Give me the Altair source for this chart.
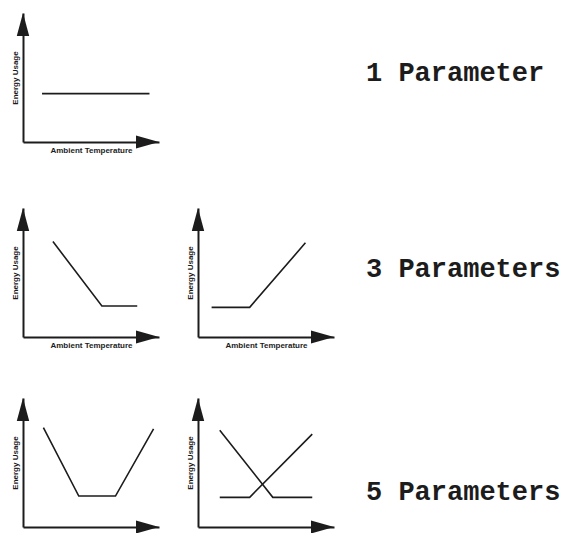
import altair as alt
import pandas as pd

# ---- text ----
TEMP_TITLE = "Ambient Temperature"
ENERGY_TITLE = "Energy Usage"
LABELS = ["1 Parameter", "3 Parameters", "5 Parameters"]

# ---- schematic series (temperature / energy in axis units 0..100) ----
P1_TEMP = [14, 93]
P1_ENERGY = [37.5, 37.5]
P2_TEMP = [22, 58, 84]
P2_ENERGY = [74, 24, 24]
P3_TEMP = [10, 38, 79]
P3_ENERGY = [23, 23, 73]
P4_TEMP = [15, 41, 68, 96]
P4_ENERGY = [77, 24, 24, 76]
P5A_TEMP = [16, 55, 84]
P5A_ENERGY = [75, 23, 23]
P5B_TEMP = [16, 38, 84]
P5B_ENERGY = [23, 23, 72]
AXIS_MAX = 100

INK = "#1c1c1c"
ARROW_X = "M0,0L-1,-0.28L-1,0.28Z"
ARROW_Y = "M0,0L0.27,1L-0.27,1Z"
PW, PH = 136, 129


def axis(title):
    return alt.Axis(title=title, ticks=False, labels=False, grid=False,
                    domainColor=INK, domainWidth=2, minExtent=0,
                    titleFont="Liberation Sans", titleFontSize=8,
                    titleFontWeight="bold", titleColor=INK, titlePadding=4)


def x_enc():
    return alt.X("temp:Q", scale=alt.Scale(domain=[0, AXIS_MAX], nice=False),
                 axis=axis(TEMP_TITLE))


def y_enc():
    return alt.Y("energy:Q", scale=alt.Scale(domain=[0, AXIS_MAX], nice=False),
                 axis=axis(ENERGY_TITLE))


def panel(series):
    rows = []
    for name, ts, es in series:
        for t, e in zip(ts, es):
            rows.append({"series": name, "temp": t, "energy": e})
    lines = alt.Chart(pd.DataFrame(rows)).mark_line(
        color=INK, strokeWidth=1.6
    ).encode(x=x_enc(), y=y_enc(), detail="series:N")
    ends = pd.DataFrame({"temp": [AXIS_MAX, 0], "energy": [0, AXIS_MAX],
                         "end": ["x", "y"]})
    arrows = alt.Chart(ends).mark_point(
        filled=True, size=2116, opacity=1, color=INK, strokeWidth=0
    ).encode(
        x=x_enc(), y=y_enc(),
        shape=alt.Shape("end:N", scale=alt.Scale(domain=["x", "y"],
                                                 range=[ARROW_X, ARROW_Y]),
                        legend=None),
    )
    return alt.layer(lines, arrows).properties(width=PW, height=PH)


def label_view(text, dx, dy, h=PH):
    return alt.Chart(pd.DataFrame({"label": [text]})).mark_text(
        font="Liberation Mono", fontSize=27, fontWeight="bold",
        align="left", baseline="alphabetic", color=INK
    ).encode(text="label:N", x=alt.value(dx), y=alt.value(dy)).properties(
        width=150, height=h)


def blank():
    return alt.Chart(pd.DataFrame({"v": [0]})).mark_point(opacity=0).encode(
        x=alt.value(0), y=alt.value(0)).properties(width=PW, height=PH)


p1 = panel([("a", P1_TEMP, P1_ENERGY)])
p2 = panel([("a", P2_TEMP, P2_ENERGY)])
p3 = panel([("a", P3_TEMP, P3_ENERGY)])
p4 = panel([("a", P4_TEMP, P4_ENERGY)])
p5 = panel([("a", P5A_TEMP, P5A_ENERGY), ("b", P5B_TEMP, P5B_ENERGY)])

chart = alt.concat(
    p1, blank(), label_view(LABELS[0], -7, 68, h=134),
    p2, p3, label_view(LABELS[1], -7, 69),
    p4, p5, label_view(LABELS[2], -7, 102),
    columns=3, spacing={"row": 61, "column": 39}, bounds="flush",
).properties(
    padding={"left": 3, "top": 2, "right": 0, "bottom": 0}
).configure(background="white").configure_view(stroke=None)

chart.save("out.html", embed_options={"renderer": "svg", "actions": False})
